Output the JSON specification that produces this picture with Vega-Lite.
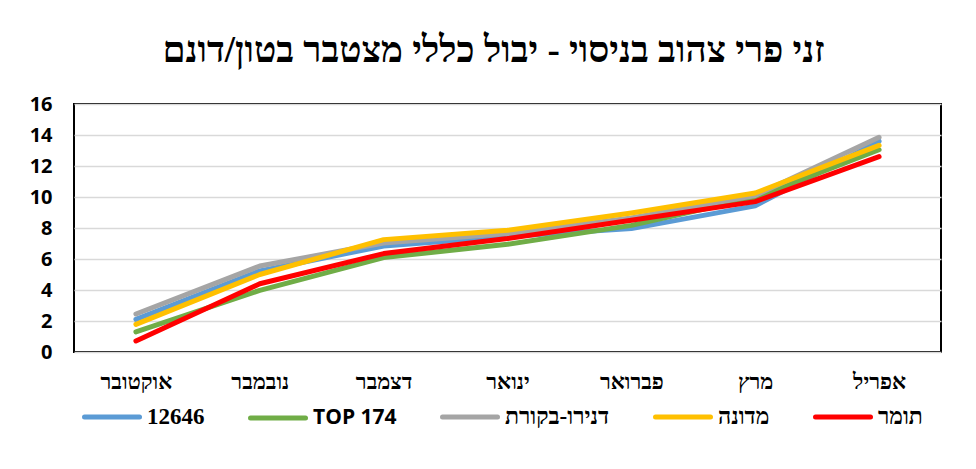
{
  "$schema": "https://vega.github.io/schema/vega-lite/v6.json",
  "autosize": {"type": "none"},
  "padding": {"left": 74, "top": 104, "right": 35, "bottom": 117},
  "width": 867,
  "height": 248,
  "background": "white",
  "title": {
    "text": "זני פרי צהוב בניסוי - יבול כללי מצטבר בטון/דונם",
    "font": "Liberation Serif",
    "fontSize": 37,
    "fontWeight": "bold",
    "color": "black",
    "anchor": "middle",
    "dx": -14,
    "offset": 24
  },
  "data": {
    "values": [
      {"month": "אוקטובר", "series": "12646", "value": 2.1},
      {"month": "נובמבר", "series": "12646", "value": 5.23},
      {"month": "דצמבר", "series": "12646", "value": 6.84},
      {"month": "ינואר", "series": "12646", "value": 7.45},
      {"month": "פברואר", "series": "12646", "value": 7.96},
      {"month": "מרץ", "series": "12646", "value": 9.43},
      {"month": "אפריל", "series": "12646", "value": 13.6},
      {"month": "אוקטובר", "series": "TOP 174", "value": 1.3},
      {"month": "נובמבר", "series": "TOP 174", "value": 3.98},
      {"month": "דצמבר", "series": "TOP 174", "value": 6.09},
      {"month": "ינואר", "series": "TOP 174", "value": 6.95},
      {"month": "פברואר", "series": "TOP 174", "value": 8.17},
      {"month": "מרץ", "series": "TOP 174", "value": 9.96},
      {"month": "אפריל", "series": "TOP 174", "value": 13.05},
      {"month": "אוקטובר", "series": "דנירו-בקורת", "value": 2.45},
      {"month": "נובמבר", "series": "דנירו-בקורת", "value": 5.55},
      {"month": "דצמבר", "series": "דנירו-בקורת", "value": 7.03},
      {"month": "ינואר", "series": "דנירו-בקורת", "value": 7.64},
      {"month": "פברואר", "series": "דנירו-בקורת", "value": 8.65},
      {"month": "מרץ", "series": "דנירו-בקורת", "value": 10.1},
      {"month": "אפריל", "series": "דנירו-בקורת", "value": 13.85},
      {"month": "אוקטובר", "series": "מדונה", "value": 1.78},
      {"month": "נובמבר", "series": "מדונה", "value": 5.0},
      {"month": "דצמבר", "series": "מדונה", "value": 7.25},
      {"month": "ינואר", "series": "מדונה", "value": 7.85},
      {"month": "פברואר", "series": "מדונה", "value": 8.97},
      {"month": "מרץ", "series": "מדונה", "value": 10.26},
      {"month": "אפריל", "series": "מדונה", "value": 13.33},
      {"month": "אוקטובר", "series": "תומר", "value": 0.71},
      {"month": "נובמבר", "series": "תומר", "value": 4.4},
      {"month": "דצמבר", "series": "תומר", "value": 6.35},
      {"month": "ינואר", "series": "תומר", "value": 7.32},
      {"month": "פברואר", "series": "תומר", "value": 8.5},
      {"month": "מרץ", "series": "תומר", "value": 9.7},
      {"month": "אפריל", "series": "תומר", "value": 12.6}
    ]
  },
  "mark": {"type": "line", "strokeWidth": 5, "strokeCap": "round", "strokeJoin": "round"},
  "encoding": {
    "x": {
      "field": "month",
      "type": "nominal",
      "sort": ["אוקטובר", "נובמבר", "דצמבר", "ינואר", "פברואר", "מרץ", "אפריל"],
      "scale": {"type": "point", "padding": 0.5},
      "axis": {
        "title": null,
        "labelAngle": 0,
        "labelFont": "Liberation Serif",
        "labelFontSize": 22,
        "labelFontWeight": "bold",
        "labelColor": "black",
        "labelPadding": 19,
        "ticks": false,
        "domain": false,
        "grid": false
      }
    },
    "y": {
      "field": "value",
      "type": "quantitative",
      "scale": {"domain": [0, 16], "nice": false},
      "axis": {
        "title": null,
        "values": [0, 2, 4, 6, 8, 10, 12, 14, 16],
        "labelFont": "Open Sans",
        "labelFontSize": 20,
        "labelFontWeight": "bold",
        "labelColor": "black",
        "labelPadding": 22,
        "ticks": false,
        "domain": false,
        "grid": true,
        "gridColor": "#d9d9d9",
        "gridWidth": 1.5
      }
    },
    "color": {
      "field": "series",
      "type": "nominal",
      "sort": ["12646", "TOP 174", "דנירו-בקורת", "מדונה", "תומר"],
      "scale": {
        "domain": ["12646", "TOP 174", "דנירו-בקורת", "מדונה", "תומר"],
        "range": ["#5B9BD5", "#70AD47", "#A5A5A5", "#FFC000", "#FF0000"]
      },
      "legend": {
        "title": null,
        "orient": "none",
        "direction": "horizontal",
        "legendX": 8,
        "legendY": 283,
        "symbolType": "stroke",
        "symbolSize": 3025,
        "symbolStrokeWidth": 5,
        "labelFont": "Liberation Serif",
        "labelFontSize": 23,
        "labelFontWeight": "bold",
        "labelColor": "black",
        "labelOffset": 5,
        "columnPadding": 35,
        "padding": 0,
        "encode": {
          "symbols": {"update": {"strokeCap": {"value": "round"}}},
          "labels": {
            "update": {
              "font": {"signal": "datum.label === 'TOP 174' ? 'Open Sans' : 'Liberation Serif'"},
              "fontSize": {"signal": "datum.label === 'TOP 174' ? 21 : 23"}
            }
          }
        }
      }
    }
  },
  "config": {
    "view": {"stroke": "black", "strokeWidth": 2}
  }
}
